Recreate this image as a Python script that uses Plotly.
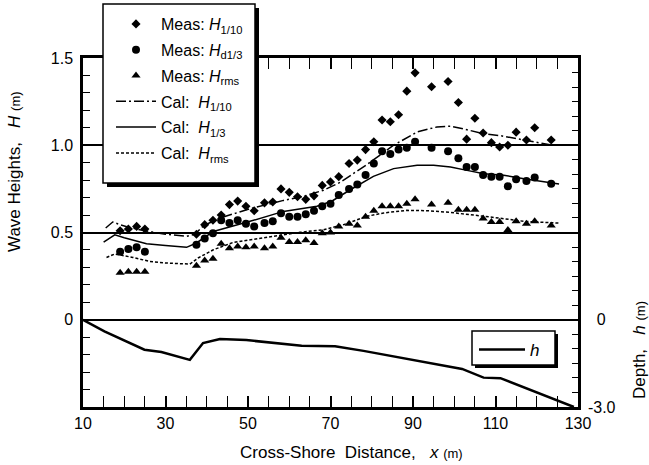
import numpy as np
import plotly.graph_objects as go

# ---------------- data ----------------
x_meas = [19, 21, 23, 25, 37.5, 39.5, 41.5, 43.5, 45.5, 47.5, 49.5, 51.5, 54, 56, 58, 60, 62, 64, 66, 68,
          70, 72, 74.5, 76.5, 78.5, 80.5, 82.5, 84.5, 86.5, 88.5, 90.5, 94.5, 98.5, 101, 103, 105, 107,
          109, 111, 113, 115, 117.5, 119.5, 123.5]
meas_h110 = [0.51, 0.52, 0.535, 0.52, 0.49, 0.545, 0.57, 0.60, 0.66, 0.68, 0.65, 0.625, 0.67, 0.675, 0.75,
             0.73, 0.705, 0.69, 0.71, 0.77, 0.79, 0.82, 0.895, 0.915, 0.975, 1.02, 1.145, 1.135, 1.175, 1.31,
             1.415, 1.335, 1.365, 1.245, 1.035, 1.155, 1.07, 1.015, 0.99, 1.0, 1.075, 1.03, 1.10, 1.03]
meas_h13 = [0.39, 0.405, 0.415, 0.39, 0.43, 0.465, 0.495, 0.57, 0.555, 0.57, 0.55, 0.535, 0.555, 0.565,
            0.61, 0.59, 0.59, 0.605, 0.625, 0.65, 0.665, 0.715, 0.75, 0.775, 0.83, 0.895, 0.965, 0.95,
            0.975, 0.985, 1.02, 0.985, 0.965, 0.925, 0.875, 0.875, 0.83, 0.82, 0.82, 0.765, 0.805, 0.795,
            0.815, 0.78]
meas_hrms = [0.27, 0.275, 0.275, 0.275, 0.31, 0.34, 0.35, 0.435, 0.41, 0.42, 0.415, 0.42, 0.41, 0.42,
             0.47, 0.445, 0.445, 0.455, 0.44, 0.495, 0.50, 0.535, 0.55, 0.54, 0.59, 0.625, 0.65, 0.65,
             0.65, 0.665, 0.69, 0.66, 0.67, 0.63, 0.63, 0.63, 0.58, 0.56, 0.56, 0.515, 0.565, 0.55,
             0.565, 0.54]

x_cal110 = [15.5, 17.2, 19, 21, 25, 30, 35.1, 37.1, 39.3, 44, 50.5, 58.6, 63.4, 68.3, 72.3, 78.8, 85.3,
            91, 95.8, 99.1, 103.1, 107.2, 111.2, 115.3, 120.1, 124.2]
cal_h110 = [0.526, 0.56, 0.545, 0.53, 0.51, 0.49, 0.478, 0.49, 0.541, 0.589, 0.636, 0.684, 0.707, 0.742,
            0.787, 0.889, 1.0, 1.076, 1.105, 1.109, 1.089, 1.065, 1.055, 1.036, 1.013, 0.998]

x_cal13 = [15, 17.7, 20, 25.4, 30, 35.1, 37.5, 41.6, 50.5, 58.6, 66.7, 70.3, 74.8, 80.4, 85.3, 91, 95,
           99.1, 103.1, 107.2, 112, 116.9, 125.4]
cal_h13 = [0.445, 0.487, 0.47, 0.436, 0.425, 0.415, 0.44, 0.506, 0.564, 0.621, 0.65, 0.679, 0.745, 0.822,
           0.866, 0.885, 0.885, 0.875, 0.856, 0.837, 0.828, 0.808, 0.778]

x_calrms = [15.7, 17.7, 22.1, 26.2, 30.2, 35.9, 37.9, 41.6, 46.4, 54.5, 62.6, 68.3, 73.2, 78.8, 82.9,
            88.5, 93.4, 99.1, 103.1, 107.2, 112, 116.9, 125.4]
cal_hrms = [0.357, 0.377, 0.357, 0.334, 0.325, 0.319, 0.354, 0.401, 0.443, 0.472, 0.501, 0.516, 0.545,
            0.593, 0.612, 0.627, 0.625, 0.615, 0.606, 0.593, 0.579, 0.564, 0.554]

x_depth = [10, 15.2, 24.9, 29, 35.9, 39.1, 43.2, 49.6, 63, 71.1, 78, 90.1, 101.9, 107.1, 111.2, 129]
depth_h = [0, -0.40, -1.03, -1.11, -1.38, -0.80, -0.66, -0.70, -0.89, -0.91, -1.07, -1.38, -1.69, -1.99,
           -2.01, -3.0]

x_tickvals = [10, 20, 30, 40, 50, 60, 70, 80, 90, 100, 110, 120, 130]
x_ticktext = ["10", "", "30", "", "50", "", "70", "", "90", "", "110", "", "130"]
y_tickvals = [0, 0.5, 1.0, 1.5]
y_ticktext = ["0", "0.5", "1.0", "1.5"]
y2_tickvals = [0, -3.0]
y2_ticktext = ["\u20070", "-3.0"]

# ---------------- figure ----------------
FONT = "Arial, Liberation Sans, sans-serif"
NB = "\u00a0"
fig = go.Figure()

def add(tr):
    fig.add_trace(tr)

add(go.Scatter(x=x_meas, y=meas_h110, mode="markers", legendgroup="a",
               marker=dict(symbol="diamond", size=7, color="black"),
               name="Meas:" + NB + "<i>H</i><sub>1/10</sub>"))
add(go.Scatter(x=x_meas, y=meas_h13, mode="markers", legendgroup="b",
               marker=dict(symbol="circle", size=8, color="black"),
               name="Meas:" + NB + "<i>H</i><sub>d1/3</sub>"))
add(go.Scatter(x=x_meas, y=meas_hrms, mode="markers", legendgroup="c",
               marker=dict(symbol="triangle-up", size=8, color="black"),
               name="Meas:" + NB + "<i>H</i><sub>rms</sub>"))
add(go.Scatter(x=x_cal110, y=cal_h110, mode="lines", legendgroup="d",
               line=dict(color="black", width=1.5, dash="10px,3px,2px,3px"),
               name="Cal:" + NB * 2 + "<i>H</i><sub>1/10</sub>"))
add(go.Scatter(x=x_cal13, y=cal_h13, mode="lines", legendgroup="e",
               line=dict(color="black", width=1.5),
               name="Cal:" + NB * 2 + "<i>H</i><sub>1/3</sub>"))
add(go.Scatter(x=x_calrms, y=cal_hrms, mode="lines", legendgroup="f",
               line=dict(color="black", width=1.5, dash="3px,2px"),
               name="Cal:" + NB * 2 + "<i>H</i><sub>rms</sub>"))
add(go.Scatter(x=x_depth, y=depth_h, mode="lines", yaxis="y2", legend="legend2",
               line=dict(color="black", width=2.5), name="<i>h</i>"))

L, R, T, B = 83, 71, 58, 58
PW, PH = 649 - L - R, 465 - T - B

def px(xp):
    return (xp - L) / PW

def py(yp):
    return (465 - B - yp) / PH

x_minor = list(np.arange(10, 131, 5))
y_minor = list(np.round(np.arange(-0.5, 1.51, 0.1), 2))
y2_minor = list(np.arange(-3.0, 9.01, 0.5))

fig.update_layout(
    width=649, height=465,
    margin=dict(l=L, r=R, t=T, b=B, autoexpand=False),
    plot_bgcolor="white", paper_bgcolor="white",
    font=dict(family=FONT, size=16, color="black"),
    showlegend=True,
    xaxis=dict(range=[10, 130], showgrid=False, zeroline=False, automargin=False,
               showline=True, linewidth=2.5, linecolor="black", mirror="allticks",
               tickmode="array", tickvals=x_tickvals, ticktext=x_ticktext,
               ticks="inside", ticklen=11, tickwidth=1.5, tickcolor="black",
               ticklabelstandoff=0,
               minor=dict(tickmode="array", tickvals=x_minor, ticks="inside", ticklen=6,
                          tickwidth=1, tickcolor="black")),
    yaxis=dict(range=[-0.5, 1.5], showgrid=True, gridcolor="black", gridwidth=2, automargin=False,
               zeroline=True, zerolinecolor="black", zerolinewidth=2,
               showline=True, linewidth=2.5, linecolor="black",
               tickmode="array", tickvals=y_tickvals, ticktext=y_ticktext,
               ticks="inside", ticklen=8, tickwidth=1.5, tickcolor="black",
               ticklabelstandoff=4,
               minor=dict(tickmode="array", tickvals=y_minor, ticks="inside", ticklen=7,
                          tickwidth=1, tickcolor="black")),
    yaxis2=dict(range=[-3.0, 9.0], overlaying="y", side="right", showgrid=False, zeroline=False,
                automargin=False,
                showline=True, linewidth=2.5, linecolor="black",
                tickmode="array", tickvals=y2_tickvals, ticktext=y2_ticktext,
                ticks="inside", ticklen=6, tickwidth=1.5, tickcolor="black",
                ticklabelstandoff=4,
                minor=dict(tickmode="array", tickvals=y2_minor, ticks="inside", ticklen=6,
                           tickwidth=1, tickcolor="black")),
    legend=dict(x=px(111), y=py(7), xanchor="left", yanchor="top",
                bgcolor="rgba(0,0,0,0)", borderwidth=0,
                font=dict(family=FONT, size=16), traceorder="grouped",
                tracegroupgap=2, itemwidth=40),
    legend2=dict(x=px(474), y=py(332), xanchor="left", yanchor="top",
                 bgcolor="rgba(0,0,0,0)", borderwidth=0,
                 font=dict(family=FONT, size=17), itemwidth=46),
)

# legend frames with drop shadows
def framed_box(x0, y0, x1, y1, off=4):
    fig.add_shape(type="rect", xref="paper", yref="paper", layer="above",
                  x0=px(x0 + off), x1=px(x1 + off), y0=py(y1 + off), y1=py(y0 + off),
                  fillcolor="black", line=dict(width=0))
    fig.add_shape(type="rect", xref="paper", yref="paper", layer="above",
                  x0=px(x0), x1=px(x1), y0=py(y1), y1=py(y0),
                  fillcolor="white", line=dict(color="black", width=1.5))

framed_box(103, 4, 255, 183)
framed_box(472, 331, 555, 365, off=3)

# axis titles
fig.add_annotation(xref="paper", yref="paper", x=px(351), y=py(452), showarrow=False,
                   xanchor="center", yanchor="middle",
                   text="Cross-Shore" + NB * 2 + "Distance," + NB * 3 + "<i>x</i> <span style='font-size:13px'>(m)</span>",
                   font=dict(size=17))
fig.add_annotation(xref="paper", yref="paper", x=px(14), y=py(172), showarrow=False, textangle=-90,
                   xanchor="center", yanchor="middle",
                   text="Wave" + NB + "Heights," + NB * 3 + "<i>H</i> <span style='font-size:13px'>(m)</span>",
                   font=dict(size=17))
fig.add_annotation(xref="paper", yref="paper", x=px(639), y=py(350), showarrow=False, textangle=-90,
                   xanchor="center", yanchor="middle",
                   text="Depth," + NB * 3 + "<i>h</i> <span style='font-size:13px'>(m)</span>",
                   font=dict(size=17))

fig.write_html("out.html", config={"displayModeBar": False},
               post_script="document.body.style.margin='0px';")
